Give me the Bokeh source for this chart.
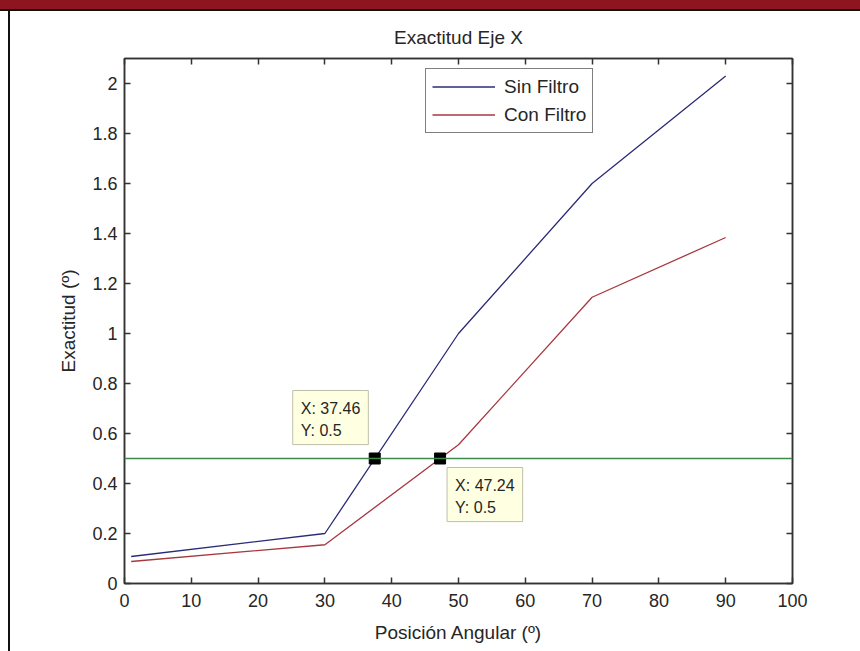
from bokeh.plotting import figure
from bokeh.models import (LinearAxis, FixedTicker, Span, Label, Legend, LegendItem,
                          Div, Range1d)
from bokeh.layouts import column, row
from bokeh.embed import file_html
from bokeh.resources import INLINE

# ---- data ----
angle_sin = [1, 30, 50, 70, 90]
acc_sin = [0.108, 0.2, 1.0, 1.6, 2.03]
angle_con = [1, 30, 50, 70, 90]
acc_con = [0.088, 0.155, 0.555, 1.145, 1.384]
threshold = 0.5
tip_x = [37.46, 47.24]
tip_y = [0.5, 0.5]
tip_text = ["X: 37.46\nY: 0.5", "X: 47.24\nY: 0.5"]
x_ticks = [0, 10, 20, 30, 40, 50, 60, 70, 80, 90, 100]
y_ticks = [0, 0.2, 0.4, 0.6, 0.8, 1, 1.2, 1.4, 1.6, 1.8, 2]
y_tick_labels = ["0", "0.2", "0.4", "0.6", "0.8", "1", "1.2", "1.4", "1.6", "1.8", "2"]
series_names = ["Sin Filtro", "Con Filtro"]
chart_title = "Exactitud Eje X"

FONT = "Liberation Sans"
AX = "#333333"
TXT = "#262626"

p = figure(frame_width=668, frame_height=525, output_backend="svg", toolbar_location=None,
           x_range=Range1d(0, 100), y_range=Range1d(0, 2.1),
           min_border_left=114, min_border_right=68, min_border_top=47, min_border_bottom=68,
           background_fill_color="white", border_fill_color="white",
           x_axis_location=None, y_axis_location=None, margin=0)
p.grid.visible = False
p.outline_line_color = AX
p.outline_line_width = 1.5

p.title.text = chart_title
p.title.align = "center"
p.title.text_font = FONT
p.title.text_font_size = "19px"
p.title.text_font_style = "normal"
p.title.text_color = TXT
p.title.standoff = 22


def style_axis(ax, label_size="18px"):
    ax.axis_line_color = AX
    ax.axis_line_width = 1.5
    ax.major_tick_line_color = AX
    ax.major_tick_line_width = 1.5
    ax.major_tick_in = 6
    ax.major_tick_out = 0
    ax.minor_tick_line_color = None
    ax.major_label_text_font = FONT
    ax.major_label_text_color = TXT
    ax.major_label_text_font_size = label_size
    ax.major_label_standoff = 10
    ax.axis_label_text_font = FONT
    ax.axis_label_text_font_size = "19px"
    ax.axis_label_text_font_style = "normal"
    ax.axis_label_text_color = TXT


xb = LinearAxis(ticker=FixedTicker(ticks=x_ticks), axis_label="Posición Angular (º)")
style_axis(xb)
xb.axis_label_standoff = 12
yl = LinearAxis(ticker=FixedTicker(ticks=y_ticks), axis_label="Exactitud (º)",
                major_label_overrides={t: s for t, s in zip(y_ticks, y_tick_labels)})
style_axis(yl)
yl.major_label_standoff = 7
yl.axis_label_standoff = 10
# box edges (top / right): ticks only, no labels
xt = LinearAxis(ticker=FixedTicker(ticks=x_ticks), major_label_overrides={t: "" for t in x_ticks})
style_axis(xt, "1px")
xt.major_label_standoff = 0
yr = LinearAxis(ticker=FixedTicker(ticks=y_ticks), major_label_overrides={t: "" for t in y_ticks})
style_axis(yr, "1px")
yr.major_label_standoff = 0
p.add_layout(xb, "below")
p.add_layout(yl, "left")
p.add_layout(xt, "above")
p.add_layout(yr, "right")

p.add_layout(Span(location=threshold, dimension="width", line_color="#3c8a4e", line_width=1.3))

r_sin = p.line(angle_sin, acc_sin, line_color="#2b2b78", line_width=1.3)
r_con = p.line(angle_con, acc_con, line_color="#a8373f", line_width=1.3)

p.scatter(tip_x, tip_y, marker="square", size=11, fill_color="black", line_color="black")

offsets = [(-82, 68), (7, -9)]
for (tx, ty, tt, (ox, oy)) in zip(tip_x, tip_y, tip_text, offsets):
    p.add_layout(Label(x=tx, y=ty, text=tt, x_offset=ox, y_offset=oy,
                       text_align="left", text_baseline="top",
                       text_font=FONT, text_font_size="16px", text_color=TXT,
                       text_line_height=1.3,
                       background_fill_color="#ffffe1", border_line_color="#bfbfa8",
                       border_line_width=1, padding=(8, 8, 9, 6)))

legend = Legend(items=[LegendItem(label=series_names[0], renderers=[r_sin]),
                       LegendItem(label=series_names[1], renderers=[r_con])],
                location=(301, 450), orientation="vertical",
                border_line_color="black", border_line_width=1,
                background_fill_color="white", background_fill_alpha=1,
                padding=6, spacing=5, margin=0,
                label_text_font=FONT, label_text_font_size="19px", label_text_color=TXT,
                label_height=23, glyph_height=23, glyph_width=63, label_standoff=9)
p.add_layout(legend)

band = Div(width=860, height=9, margin=0, styles={"background-color": "#8e1420"})
hline = Div(width=860, height=2, margin=0, styles={"background-color": "#111111"})
gap = Div(width=8, height=640, margin=0)
vline = Div(width=2, height=640, margin=0, styles={"background-color": "#111111"})
layout = column(band, hline, row(gap, vline, p, spacing=0, margin=0), spacing=0, margin=0)

open("out.html", "w").write(file_html(layout, INLINE))
